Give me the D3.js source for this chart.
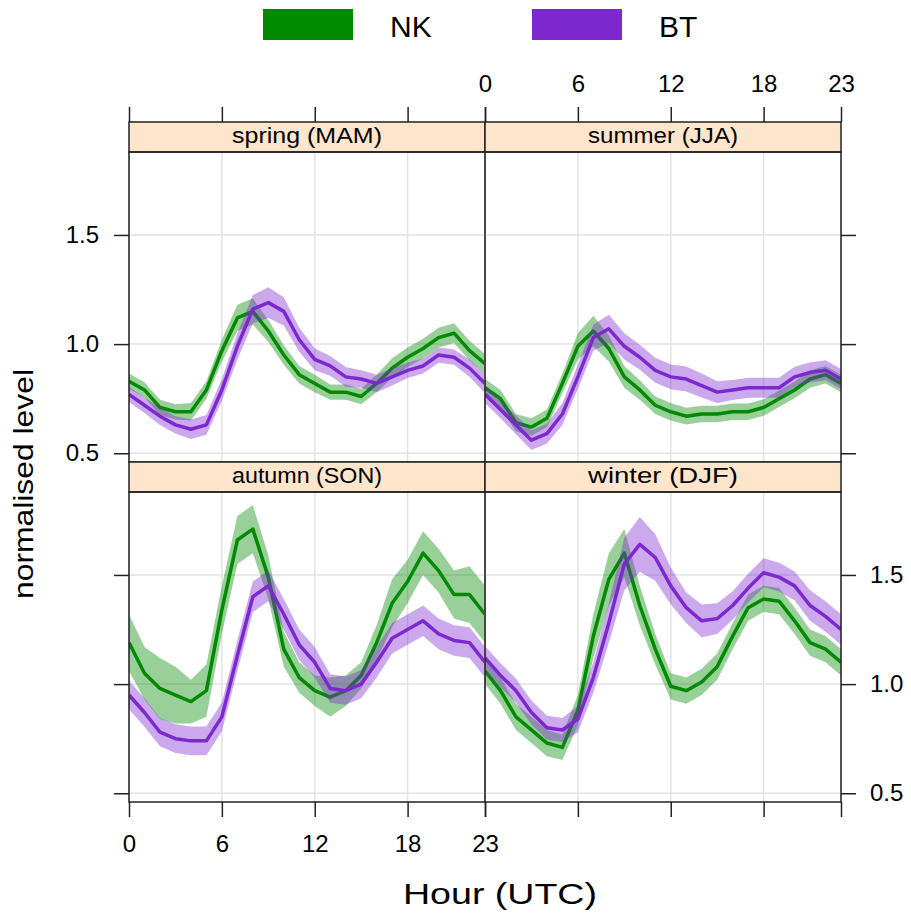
<!DOCTYPE html>
<html>
<head>
<meta charset="utf-8">
<script src="https://cdn.jsdelivr.net/npm/d3@7"></script>
<style>
  body { margin: 0; background: #fff; }
  text { font-family: Arial, "Liberation Sans", Helvetica, sans-serif; fill: #000; }
</style>
</head>
<body>
<svg id="chart" width="911" height="917"></svg>
<script>
// Hour of day (UTC)
const hours = [0,1,2,3,4,5,6,7,8,9,10,11,12,13,14,15,16,17,18,19,20,21,22,23];
const seasons = ["spring (MAM)", "summer (JJA)", "autumn (SON)", "winter (DJF)"];
const sites = ["NK", "BT"];
const xTicks = [0, 6, 12, 18, 23];
const yTicks = [0.5, 1.0, 1.5];

// Normalised diurnal levels (mean) and half-width of the uncertainty band
const springNK   = [0.83,0.79,0.71,0.69,0.69,0.79,0.97,1.12,1.15,1.06,0.95,0.86,0.82,0.78,0.78,0.76,0.82,0.89,0.94,0.98,1.03,1.05,0.97,0.91];
const springNKci = [0.035,0.035,0.035,0.035,0.04,0.04,0.05,0.06,0.06,0.05,0.045,0.04,0.04,0.035,0.035,0.035,0.04,0.045,0.045,0.045,0.045,0.045,0.045,0.045];
const springBT   = [0.77,0.72,0.67,0.63,0.61,0.63,0.79,0.99,1.16,1.19,1.15,1.02,0.93,0.90,0.85,0.84,0.82,0.85,0.88,0.90,0.95,0.94,0.89,0.82];
const springBTci = [0.035,0.035,0.04,0.04,0.045,0.045,0.05,0.06,0.065,0.07,0.065,0.055,0.05,0.045,0.045,0.04,0.04,0.04,0.035,0.035,0.035,0.035,0.04,0.045];

const summerNK   = [0.80,0.75,0.64,0.62,0.66,0.82,0.99,1.06,0.98,0.85,0.79,0.72,0.69,0.67,0.68,0.68,0.69,0.69,0.71,0.75,0.79,0.84,0.86,0.82];
const summerNKci = [0.04,0.04,0.04,0.04,0.04,0.045,0.06,0.07,0.06,0.05,0.045,0.04,0.04,0.038,0.038,0.038,0.038,0.038,0.038,0.038,0.038,0.04,0.04,0.04];
const summerBT   = [0.77,0.70,0.63,0.56,0.59,0.68,0.85,1.03,1.07,0.99,0.94,0.88,0.85,0.84,0.81,0.78,0.79,0.80,0.80,0.80,0.85,0.87,0.88,0.84];
const summerBTci = [0.04,0.04,0.043,0.045,0.045,0.05,0.055,0.06,0.064,0.06,0.057,0.057,0.057,0.057,0.055,0.05,0.046,0.046,0.046,0.046,0.046,0.046,0.046,0.046];

const autumnNK   = [1.19,1.05,0.98,0.95,0.92,0.97,1.34,1.66,1.71,1.49,1.16,1.03,0.97,0.94,0.97,1.04,1.19,1.37,1.47,1.60,1.52,1.41,1.41,1.32];
const autumnNKci = [0.13,0.12,0.14,0.13,0.10,0.12,0.11,0.11,0.11,0.10,0.08,0.07,0.07,0.09,0.07,0.06,0.08,0.11,0.10,0.10,0.10,0.11,0.13,0.13];
const autumnBT   = [0.95,0.87,0.78,0.75,0.74,0.74,0.85,1.13,1.40,1.45,1.32,1.18,1.10,0.98,0.97,1.00,1.10,1.21,1.25,1.29,1.23,1.20,1.19,1.10];
const autumnBTci = [0.065,0.065,0.065,0.066,0.066,0.066,0.066,0.07,0.07,0.07,0.07,0.07,0.07,0.065,0.065,0.065,0.07,0.07,0.07,0.07,0.07,0.07,0.07,0.07];

const winterNK   = [1.06,0.97,0.85,0.79,0.73,0.71,0.88,1.22,1.48,1.60,1.36,1.16,0.99,0.97,1.01,1.08,1.22,1.35,1.39,1.38,1.29,1.19,1.16,1.10];
const winterNKci = [0.06,0.06,0.06,0.06,0.06,0.058,0.07,0.10,0.12,0.11,0.09,0.07,0.06,0.06,0.06,0.06,0.06,0.06,0.06,0.06,0.06,0.06,0.06,0.06];
const winterBT   = [1.12,1.04,0.97,0.87,0.80,0.79,0.84,1.03,1.28,1.55,1.64,1.58,1.45,1.35,1.29,1.30,1.36,1.44,1.51,1.49,1.45,1.36,1.31,1.25];
const winterBTci = [0.055,0.055,0.055,0.055,0.055,0.055,0.06,0.07,0.09,0.12,0.125,0.107,0.084,0.07,0.075,0.07,0.065,0.066,0.066,0.066,0.066,0.07,0.07,0.07];

const siteColours = { NK: "#008a00", BT: "#7d28cf" };

const panelData = [
  { NK: springNK, NKci: springNKci, BT: springBT, BTci: springBTci },
  { NK: summerNK, NKci: summerNKci, BT: summerBT, BTci: summerBTci },
  { NK: autumnNK, NKci: autumnNKci, BT: autumnBT, BTci: autumnBTci },
  { NK: winterNK, NKci: winterNKci, BT: winterBT, BTci: winterBTci }
];

// Layout of the 2x2 lattice
const colLeft = [129, 485];
const panelW = 356;
const rowTop = [122, 462];   // strip top per row
const stripH = 30;
const panelH = 310;
const tickLen = 15;

const svg = d3.select("#chart");

seasons.forEach((season, i) => {
  const col = i % 2, row = Math.floor(i / 2);
  const x0 = colLeft[col];
  const sTop = rowTop[row];
  const pTop = sTop + stripH;
  const pBot = pTop + panelH;

  const x = d3.scaleLinear().domain([0, 23]).range([x0, x0 + panelW]);
  const y = d3.scaleLinear().domain([0.46, 1.88]).range([pBot, pTop]);

  const g = svg.append("g");
  const clipId = "clip" + i;
  svg.append("clipPath").attr("id", clipId)
    .append("rect").attr("x", x0).attr("y", pTop).attr("width", panelW).attr("height", panelH);

  // grid
  const grid = g.append("g").attr("stroke", "#e3e3e3").attr("stroke-width", 1.5);
  grid.selectAll("line.v").data(xTicks).join("line")
    .attr("x1", d => x(d)).attr("x2", d => x(d)).attr("y1", pTop).attr("y2", pBot);
  grid.selectAll("line.h").data(yTicks).join("line")
    .attr("x1", x0).attr("x2", x0 + panelW).attr("y1", d => y(d)).attr("y2", d => y(d));

  // bands and lines
  const plot = g.append("g").attr("clip-path", `url(#${clipId})`);
  const pd = panelData[i];
  sites.forEach(site => {
    const mean = pd[site], ci = pd[site + "ci"];
    const area = d3.area()
      .x((d, k) => x(hours[k]))
      .y0((d, k) => y(mean[k] - ci[k]))
      .y1((d, k) => y(mean[k] + ci[k]));
    const line = d3.line()
      .x((d, k) => x(hours[k]))
      .y((d, k) => y(mean[k]));
    plot.append("path").datum(mean).attr("d", area)
      .attr("fill", siteColours[site]).attr("fill-opacity", 0.4).attr("stroke", "none");
    plot.append("path").datum(mean).attr("d", line)
      .attr("fill", "none").attr("stroke", siteColours[site]).attr("stroke-width", 3.5)
      .attr("stroke-linejoin", "round");
  });

  // strip
  g.append("rect").attr("x", x0).attr("y", sTop).attr("width", panelW).attr("height", stripH)
    .attr("fill", "#ffe5cc").attr("stroke", "#222").attr("stroke-width", 1.5);
  g.append("text").attr("x", x0 + panelW / 2).attr("y", sTop + 21)
    .attr("text-anchor", "middle").attr("font-size", 22)
    .attr("textLength", 150).attr("lengthAdjust", "spacingAndGlyphs")
    .text(season);

  // panel border
  g.append("rect").attr("x", x0).attr("y", pTop).attr("width", panelW).attr("height", panelH)
    .attr("fill", "none").attr("stroke", "#222").attr("stroke-width", 1.5);

  const fmt = d3.format(".1f");
  const styleAxis = sel => {
    sel.select(".domain").remove();
    sel.selectAll(".tick line").attr("stroke", "#222").attr("stroke-width", 1.5);
    sel.selectAll(".tick text").attr("font-size", 24).attr("fill", "#000")
      .attr("font-family", "Arial, 'Liberation Sans', sans-serif");
  };

  // vertical axes: left on left column, right on right column
  if (col === 0) {
    const ax = d3.axisLeft(y).tickValues(yTicks).tickSize(tickLen).tickPadding(15)
      .tickFormat(row === 0 ? fmt : () => "");
    g.append("g").attr("transform", `translate(${x0},0)`).call(ax).call(styleAxis);
  } else {
    const ax = d3.axisRight(y).tickValues(yTicks).tickSize(tickLen).tickPadding(14)
      .tickFormat(row === 1 ? fmt : () => "");
    g.append("g").attr("transform", `translate(${x0 + panelW},0)`).call(ax).call(styleAxis);
  }

  // horizontal axes: top on top row, bottom on bottom row
  if (row === 0) {
    const ax = d3.axisTop(x).tickValues(xTicks).tickSize(tickLen).tickPadding(15)
      .tickFormat(col === 1 ? d3.format("d") : () => "");
    g.append("g").attr("transform", `translate(0,${sTop})`).call(ax).call(styleAxis);
  } else {
    const ax = d3.axisBottom(x).tickValues(xTicks).tickSize(tickLen).tickPadding(18)
      .tickFormat(col === 0 ? d3.format("d") : () => "");
    g.append("g").attr("transform", `translate(0,${pBot})`).call(ax).call(styleAxis);
  }
});

// axis titles
svg.append("text").attr("x", 500).attr("y", 904).attr("text-anchor", "middle")
  .attr("font-size", 30).attr("textLength", 194).attr("lengthAdjust", "spacingAndGlyphs")
  .text("Hour (UTC)");
svg.append("text").attr("transform", "translate(33,484) rotate(-90)")
  .attr("text-anchor", "middle").attr("font-size", 27)
  .attr("textLength", 230).attr("lengthAdjust", "spacingAndGlyphs")
  .text("normalised level");

// legend
const legendX = [263, 532];
const legend = svg.append("g");
sites.forEach((site, k) => {
  legend.append("rect").attr("x", legendX[k]).attr("y", 9).attr("width", 90).attr("height", 31)
    .attr("fill", siteColours[site]);
  legend.append("text").attr("x", legendX[k] + 127).attr("y", 37)
    .attr("font-size", 30).text(site);
});
</script>
</body>
</html>
